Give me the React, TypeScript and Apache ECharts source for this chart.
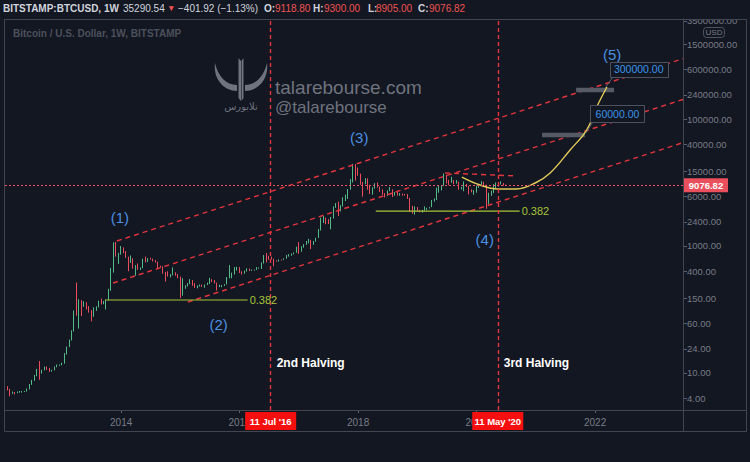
import React, { useEffect, useRef } from 'react';
import * as echarts from 'echarts';

const BG = '#131722';
const FRAME = '#434651';
const AXIS_TXT = '#787b86';
const UP = '#53b987';
const DOWN = '#eb4d5c';
const RED_LINE = '#e3353e';
const FIB = '#a8c43a';
const CURVE = '#e2cb58';
const WAVE = '#4a8fe0';
const WM = '#6f737e';
const FONT = 'Liberation Sans, Arial, sans-serif';

// ---- header / titles ----
const headerParts: [string, number, string, boolean][] = [
  ['BITSTAMP:BTCUSD, 1W', 3, '#d1d4dc', true],
  ['35290.54', 123, '#d1d4dc', false],
  ['\u25BC', 167, '#ef5350', false],
  ['\u2212401.92 (\u22121.13%)', 178, '#d1d4dc', false],
  ['O:', 264, '#d1d4dc', true],
  ['9118.80', 275, '#ef5350', false],
  ['H:', 313, '#d1d4dc', true],
  ['9300.00', 324, '#ef5350', false],
  ['L:', 368, '#d1d4dc', true],
  ['8905.00', 376, '#ef5350', false],
  ['C:', 418, '#d1d4dc', true],
  ['9076.82', 429, '#ef5350', false],
];
const chartTitle = 'Bitcoin / U.S. Dollar, 1W, BITSTAMP';
const watermarkLines = ['talarebourse.com', '@talarebourse'];

// ---- axes ----
const yTickValues = [4, 10, 24, 60, 150, 400, 1000, 2400, 6000, 15000, 40000, 100000, 240000, 600000, 1500000, 3500000];
const xTickYears = [2014, 2016, 2018, 2020, 2022];
const axisStart = '2012-01-16';
const axisEnd = '2023-06-27';
const priceMin = 2.61;
const priceMax = 3760000;
const lastPrice = 9076.82;

// ---- half-monthly candles from 16 Jan 2012: [open, high, low, close] ----
const firstCandleYear = 2012;
const candlesOHLC: number[][] = [
  // 2012
  [6.8, 7.0, 5.8, 6.0], [6.0, 6.2, 5.3, 5.5], [5.5, 5.6, 4.3, 4.9], [4.9, 5.1, 4.7, 4.9], [4.9, 5.0, 4.6, 4.8],
  [4.8, 5.1, 4.8, 5.0], [5.0, 5.2, 4.9, 5.0], [5.0, 5.2, 4.9, 5.1], [5.1, 5.2, 5.0, 5.1], [5.1, 5.7, 5.1, 5.6],
  [5.6, 6.7, 5.5, 6.6], [6.6, 7.8, 6.5, 7.6], [7.6, 9.3, 7.5, 9.0], [9.0, 11.6, 8.9, 11.4], [11.4, 15.4, 7.8, 10.2],
  [10.2, 11.2, 9.8, 11.0], [11.0, 12.6, 11.0, 12.4], [12.4, 12.6, 11.2, 11.8], [11.8, 12.0, 10.4, 11.0], [11.0, 11.2, 10.5, 11.0],
  [11.0, 12.6, 11.0, 12.5], [12.5, 13.6, 12.3, 13.4], [13.4, 13.6, 13.0, 13.5],
  // 2013
  [13.5, 14.5, 13.2, 14.2], [14.2, 20.6, 14.0, 20.4], [20.4, 26.0, 19.5, 25.8], [25.8, 33.5, 25.5, 33.2],
  [33.2, 47.0, 32.5, 46.9], [46.9, 96.0, 45.0, 93.0], [93.0, 266.0, 80.0, 90.0], [90.0, 145.0, 50.0, 139.0],
  [139.0, 140.0, 79.0, 115.0], [115.0, 135.0, 110.0, 128.0], [128.0, 130.0, 100.0, 102.0], [102.0, 113.0, 89.0, 97.0],
  [97.0, 98.0, 65.0, 77.0], [77.0, 108.0, 77.0, 106.0], [106.0, 112.0, 95.0, 110.0], [110.0, 137.0, 108.0, 135.0],
  [135.0, 148.0, 120.0, 128.0], [128.0, 136.0, 121.0, 133.0], [133.0, 142.0, 100.0, 140.0], [140.0, 212.0, 140.0, 198.0],
  [198.0, 450.0, 197.0, 420.0], [420.0, 1140.0, 380.0, 1120.0], [1120.0, 1163.0, 680.0, 720.0], [720.0, 780.0, 522.0, 732.0],
  // 2014
  [732, 1000, 730, 920], [920, 950, 770, 800], [800, 830, 650, 660], [660, 680, 400, 550],
  [550, 710, 540, 630], [630, 640, 440, 460], [460, 500, 340, 470], [470, 530, 420, 445],
  [445, 460, 420, 450], [450, 630, 445, 630], [630, 680, 550, 590], [590, 640, 560, 640],
  [640, 650, 610, 620], [620, 630, 570, 585], [585, 600, 550, 560], [560, 565, 450, 480],
  [480, 490, 460, 475], [475, 480, 365, 385], [385, 390, 275, 360], [360, 400, 330, 340],
  [340, 360, 320, 350], [350, 460, 345, 375], [375, 385, 340, 350], [350, 360, 310, 320],
  // 2015
  [320, 330, 152, 210], [210, 310, 165, 217], [217, 240, 212, 235], [235, 260, 230, 254],
  [254, 300, 250, 280], [280, 290, 236, 244], [244, 260, 218, 222], [222, 240, 215, 236],
  [236, 247, 230, 237], [237, 245, 226, 230], [230, 248, 220, 246], [246, 265, 243, 263],
  [263, 315, 252, 290], [290, 300, 270, 285], [285, 290, 258, 262], [262, 265, 199, 230],
  [230, 245, 225, 231], [231, 242, 225, 236], [236, 250, 235, 248], [248, 325, 248, 313],
  [313, 500, 310, 330], [330, 380, 310, 377], [377, 465, 355, 430], [430, 470, 410, 430],
  // 2016
  [430, 465, 375, 385], [385, 400, 355, 368], [368, 410, 365, 405], [405, 445, 395, 437],
  [437, 440, 405, 415], [415, 425, 405, 416], [416, 425, 410, 422], [422, 465, 420, 448],
  [448, 460, 440, 455], [455, 550, 435, 531], [531, 720, 530, 700], [700, 777, 550, 673],
  [673, 700, 610, 660], [660, 680, 615, 624], [624, 630, 480, 580], [580, 590, 565, 573],
  [573, 615, 570, 608], [608, 612, 590, 606], [606, 640, 605, 640], [640, 720, 630, 700],
  [700, 745, 680, 710], [710, 760, 700, 742], [742, 790, 740, 785], [785, 975, 780, 966],
  // 2017
  [966, 1150, 750, 820], [820, 990, 810, 965], [965, 1070, 940, 1050], [1050, 1200, 1040, 1190],
  [1190, 1290, 1100, 1240], [1240, 1250, 890, 1080], [1080, 1200, 1040, 1180], [1180, 1350, 1170, 1350],
  [1350, 1850, 1340, 1750], [1750, 2790, 1750, 2300], [2300, 2980, 2300, 2500], [2500, 2800, 2200, 2480],
  [2480, 2650, 2220, 2300], [2300, 2870, 1830, 2870], [2870, 4200, 2700, 4100], [4100, 4750, 3990, 4700],
  [4700, 4980, 2970, 3700], [3700, 4400, 3500, 4340], [4340, 5850, 4200, 5700], [5700, 6450, 5100, 6450],
  [6450, 7900, 5500, 7900], [7900, 11300, 7700, 10000], [10000, 19666, 10000, 17500], [17500, 19500, 10700, 13800],
  // 2018
  [13800, 17200, 12800, 13700], [13700, 13800, 9200, 10100], [10100, 10200, 6000, 10000], [10000, 11700, 9400, 10300],
  [10300, 11600, 7700, 8300], [8300, 9200, 6600, 6900], [6900, 8400, 6430, 8300], [8300, 9750, 8000, 9240],
  [9240, 9990, 8300, 8500], [8500, 8600, 7100, 7490], [7490, 7800, 6400, 6600], [6600, 6800, 5800, 6390],
  [6390, 7500, 6100, 7400], [7400, 8500, 7300, 7730], [7730, 7800, 5900, 6300], [6300, 7100, 6200, 7030],
  [7030, 7400, 6200, 6500], [6500, 6800, 6200, 6630], [6630, 6700, 6200, 6450], [6450, 6600, 6250, 6370],
  [6370, 6600, 5500, 5600], [5600, 5700, 3470, 4040], [4040, 4300, 3220, 3300], [3300, 4200, 3120, 3740],
  // 2019
  [3740, 4100, 3500, 3600], [3600, 3700, 3400, 3440], [3440, 3700, 3350, 3600], [3600, 4200, 3600, 3820],
  [3820, 4000, 3700, 3960], [3960, 4100, 3900, 4100], [4100, 5300, 4100, 5100], [5100, 5600, 5000, 5320],
  [5320, 8300, 5300, 7900], [7900, 8900, 6900, 8560], [8560, 9100, 7500, 8900], [8900, 13880, 8900, 10800],
  [10800, 13200, 9700, 10200], [10200, 11000, 9100, 10080], [10080, 12300, 9900, 10300], [10300, 10900, 9400, 9600],
  [9600, 10900, 9600, 10200], [10200, 10300, 7700, 8300], [8300, 8500, 7800, 8350], [8350, 10400, 7300, 9150],
  [9150, 9500, 8500, 8650], [8650, 8800, 6500, 7550], [7550, 7800, 7000, 7100], [7100, 7600, 6400, 7190],
  // 2020
  [7190, 8900, 6900, 8800], [8800, 9550, 8250, 9350], [9350, 10500, 9200, 9900], [9900, 10250, 8500, 8530],
  [8530, 9200, 3850, 5400], [5400, 6900, 4500, 6430], [6430, 7450, 6150, 7100], [7100, 9450, 6800, 8650],
  [8650, 10000, 8100, 9700], [9700, 9900, 8600, 9450], [9450, 10400, 9300, 9450], [9450, 9800, 8900, 9118.8],
  [9118.8, 9300, 8905, 9076.82],
];

// ---- drawings ----
const halvings: [string, string, string][] = [
  ['2016-07-11', "11 Jul '16", '2nd Halving'],
  ['2020-05-11', "11 May '20", '3rd Halving'],
];
const halvingTextPrice = 14.5;
const channelLines: [string, number][][] = [
  [['2013-12-06', 1199], [axisEnd, 891000]],
  [['2013-11-12', 261], [axisEnd, 203000]],
  [['2015-02-16', 131], [axisEnd, 42500]],
  [['2019-06-21', 14130], ['2020-08-25', 12700]],
];
const fibLevels: [string, string, number, string][] = [
  ['2013-09-23', '2016-02-20', 141, '0.382'],
  ['2018-04-20', '2020-09-23', 3550, '0.382'],
];
const projection: [string, number][] = [
  ['2019-10-03', 12200], ['2020-01-23', 9120], ['2020-05-08', 7910], ['2020-09-05', 7910],
  ['2020-12-28', 9820], ['2021-03-30', 14130], ['2021-07-31', 32500], ['2021-11-10', 67100],
  ['2022-01-11', 154600], ['2022-03-15', 319000],
];
const targetBars: [string, string, number][] = [
  ['2021-09-06', '2022-04-28', 286000],
  ['2021-02-08', '2021-10-30', 56000],
];
// text, box-centre date, box-centre price, pointer date, pointer price
const callouts: [string, string, number, string, number][] = [
  ['300000.00', '2022-09-27', 603000, '2022-03-04', 307000],
  ['60000.00', '2022-05-19', 122000, '2021-11-06', 60300],
];
const waveLabels: [string, string, number][] = [
  ['(1)', '2013-12-24', 2760],
  ['(2)', '2015-08-25', 59],
  ['(3)', '2018-01-08', 50300],
  ['(4)', '2020-02-21', 1243],
  ['(5)', '2022-04-16', 1020000],
];

const LOGO_PATH =
  'M1,5 C-1,20 9,33 23,33 L23,27 C12,27 4,18 1,5 Z ' +
  'M53,5 C55,20 45,33 31,33 L31,27 C42,27 50,18 53,5 Z ' +
  'M24.5,0 L27,3 L27,43 L24.5,40 Z M29.5,0 L27.5,3 L27.5,43 L29.5,40 Z';
let logoReady = false;
function ensureLogo() {
  if (!logoReady) {
    echarts.graphic.registerShape('talaLogo', echarts.graphic.extendPath(LOGO_PATH, {}));
    logoReady = true;
  }
}

const toTime = (d: string) => Date.parse(d);
const candleTime = (i: number) => {
  const k = i + 1;
  const y = firstCandleYear + Math.floor(k / 24);
  const m = Math.floor((k % 24) / 2);
  return Date.UTC(y, m, k % 2 ? 16 : 1);
};

function txt(text: string, x: number, y: number, o: any = {}) {
  return {
    type: 'text',
    x,
    y,
    z: o.z ?? 100,
    silent: true,
    style: {
      text,
      fill: o.fill ?? '#d1d4dc',
      fontSize: o.fontSize ?? 11,
      fontWeight: o.fontWeight ?? 'normal',
      fontFamily: o.fontFamily ?? FONT,
      align: o.align ?? 'left',
      verticalAlign: 'middle',
    },
  };
}

export default function App() {
  const ref = useRef<HTMLDivElement>(null);
  useEffect(() => {
    ensureLogo();
    const chart = echarts.init(ref.current!, null, { renderer: 'svg' });
    const xTicks = xTickYears.map((y) => Date.UTC(y, 0, 1));
    const candleData = candlesOHLC.map((c, i) => [candleTime(i), c[0], c[3], c[2], c[1]]);
    const lineSeries = (data: any[], style: any, extra: any = {}) => ({
      type: 'line',
      data,
      symbol: 'none',
      silent: true,
      z: 3,
      lineStyle: style,
      ...extra,
    });
    const series: any[] = [
      {
        type: 'candlestick',
        data: candleData,
        barWidth: 1.2,
        z: 2,
        silent: true,
        itemStyle: { color: UP, color0: DOWN, borderColor: UP, borderColor0: DOWN, borderWidth: 1 },
        markLine: {
          silent: true,
          symbol: ['none', 'none'],
          label: { show: false },
          data: [
            ...halvings.map((h) => ({ xAxis: toTime(h[0]), lineStyle: { color: RED_LINE, type: [4, 3], width: 1.4 } })),
            { yAxis: lastPrice, lineStyle: { color: '#e8505e', type: [2, 2], width: 1 } },
          ],
        },
      },
      ...channelLines.map((l) =>
        lineSeries(l.map((p) => [toTime(p[0]), p[1]]), { color: RED_LINE, type: [5, 4], width: 1.4 }),
      ),
      ...fibLevels.map((f) =>
        lineSeries([[toTime(f[0]), f[2]], [toTime(f[1]), f[2]]], { color: FIB, width: 1.2 }),
      ),
      ...targetBars.map((b) =>
        lineSeries([[toTime(b[0]), b[2]], [toTime(b[1]), b[2]]], { color: '#565a65', width: 4.5, cap: 'butt' }),
      ),
      lineSeries(projection.map((p) => [toTime(p[0]), p[1]]), { color: CURVE, width: 1.4 }, { smooth: 0.4, z: 4 }),
    ];

    chart.setOption({
      animation: false,
      backgroundColor: BG,
      grid: { left: 5, right: 67, top: 19, bottom: 52 },
      xAxis: {
        type: 'value',
        min: toTime(axisStart),
        max: toTime(axisEnd),
        axisLine: { show: true, lineStyle: { color: FRAME } },
        axisTick: { show: true, length: 3, customValues: xTicks, lineStyle: { color: '#5d606b' } },
        axisLabel: {
          customValues: xTicks,
          formatter: (v: number) => String(new Date(v).getUTCFullYear()),
          color: AXIS_TXT,
          fontSize: 10,
          fontFamily: FONT,
          margin: 7,
        },
        splitLine: { show: false },
      },
      yAxis: {
        type: 'log',
        logBase: 10,
        position: 'right',
        min: priceMin,
        max: priceMax,
        axisLine: { show: true, lineStyle: { color: FRAME } },
        axisTick: { show: true, length: 4, customValues: yTickValues, lineStyle: { color: '#5d606b' } },
        axisLabel: {
          customValues: yTickValues,
          formatter: (v: number) => Number(v).toFixed(2),
          color: AXIS_TXT,
          fontSize: 9.5,
          fontFamily: FONT,
          margin: 4,
        },
        splitLine: { show: false },
      },
      series,
    });

    const px = (d: string, v: number) =>
      chart.convertToPixel({ xAxisIndex: 0, yAxisIndex: 0 }, [toTime(d), v]) as number[];

    const g: any[] = [];
    // frame
    g.push({ type: 'rect', z: 40, silent: true, shape: { x: 684, y: 0, width: 66, height: 19 }, style: { fill: BG } });
    g.push({ type: 'rect', z: 50, silent: true, shape: { x: 4.5, y: 19.5, width: 742, height: 412 }, style: { fill: 'none', stroke: FRAME, lineWidth: 1 } });
    g.push({ type: 'line', z: 50, silent: true, shape: { x1: 4.5, y1: 410.5, x2: 746.5, y2: 410.5 }, style: { stroke: FRAME, lineWidth: 1 } });
    g.push({ type: 'line', z: 50, silent: true, shape: { x1: 683.5, y1: 19.5, x2: 683.5, y2: 431.5 }, style: { stroke: FRAME, lineWidth: 1 } });
    // USD badge
    g.push({ type: 'rect', z: 60, silent: true, shape: { x: 703.5, y: 27.5, width: 21, height: 10, r: 3 }, style: { fill: 'none', stroke: '#50535e', lineWidth: 1 } });
    g.push(txt('USD', 714, 32.5, { fontSize: 8, fill: AXIS_TXT, align: 'center' }));
    // header
    headerParts.forEach(([t, x, c, b]) =>
      g.push(txt(t, x, 8, { fill: c, fontWeight: b ? 'bold' : 'normal', fontSize: t === '\u25BC' ? 8.5 : 10 })),
    );
    g.push(txt(chartTitle, 13, 33, { fill: '#4c505b', fontWeight: 'bold', fontSize: 10 }));
    // watermark
    g.push({ type: 'talaLogo', x: 214, y: 58, z: 5, silent: true, style: { fill: WM } });
    g.push(txt('\u062A\u0644\u0627\u0628\u0648\u0631\u0633', 241, 106, { fill: WM, fontSize: 10, align: 'center', fontFamily: 'DejaVu Sans, sans-serif', z: 5 }));
    g.push(txt(watermarkLines[0], 275, 87, { fill: WM, fontSize: 19, z: 5 }));
    g.push(txt(watermarkLines[1], 275, 107, { fill: WM, fontSize: 17, z: 5 }));
    // wave labels
    waveLabels.forEach(([t, d, v]) => {
      const p = px(d, v);
      g.push(txt(t, p[0], p[1], { fill: WAVE, fontSize: 15, align: 'center', z: 20 }));
    });
    // halving texts & date tags
    halvings.forEach(([d, tag, label]) => {
      const p = px(d, halvingTextPrice);
      g.push(txt(label, p[0] + 6, p[1], { fill: '#ffffff', fontWeight: 'bold', fontSize: 12, z: 20 }));
      g.push({ type: 'rect', z: 70, silent: true, shape: { x: p[0] - 25.5, y: 412, width: 51, height: 18 }, style: { fill: '#f50f0f' } });
      g.push(txt(tag, p[0], 421, { fill: '#ffffff', fontWeight: 'bold', fontSize: 9.5, align: 'center', z: 71 }));
    });
    // fib labels
    fibLevels.forEach(([, to, v, lab]) => {
      const p = px(to, v);
      g.push(txt(lab, p[0] + 2, p[1], { fill: FIB, fontSize: 11, z: 20 }));
    });
    // callouts
    callouts.forEach(([t, d, v, pd, pv], i) => {
      const c = px(d, v);
      const q = px(pd, pv);
      const w = i === 0 ? 58 : 54;
      const h = i === 0 ? 15 : 17;
      const bx = Math.round(c[0] - w / 2) + 0.5;
      const by = Math.round(c[1] - h / 2) + 0.5;
      g.push({ type: 'line', z: 20, silent: true, shape: { x1: bx + 2, y1: by + h, x2: q[0], y2: q[1] }, style: { stroke: '#5d606b', lineWidth: 1 } });
      g.push({ type: 'rect', z: 21, silent: true, shape: { x: bx, y: by, width: w, height: h }, style: { fill: BG, stroke: '#4e525e', lineWidth: 1 } });
      g.push(txt(t, c[0], c[1], { fill: '#3b93e6', fontSize: 10.5, align: 'center', z: 22 }));
    });
    // last price tag
    const lp = px(axisEnd, lastPrice);
    g.push({ type: 'rect', z: 70, silent: true, shape: { x: 684, y: lp[1] - 7, width: 44, height: 14 }, style: { fill: '#ea4f5e' } });
    g.push(txt('9076.82', 706, lp[1], { fill: '#ffffff', fontWeight: 'bold', fontSize: 9.5, align: 'center', z: 71 }));

    chart.setOption({ graphic: { elements: g } });
    return () => chart.dispose();
  }, []);
  return (
    <div
      ref={ref}
      style={{ position: 'fixed', left: 0, top: 0, width: 750, height: 462, background: BG }}
    />
  );
}
